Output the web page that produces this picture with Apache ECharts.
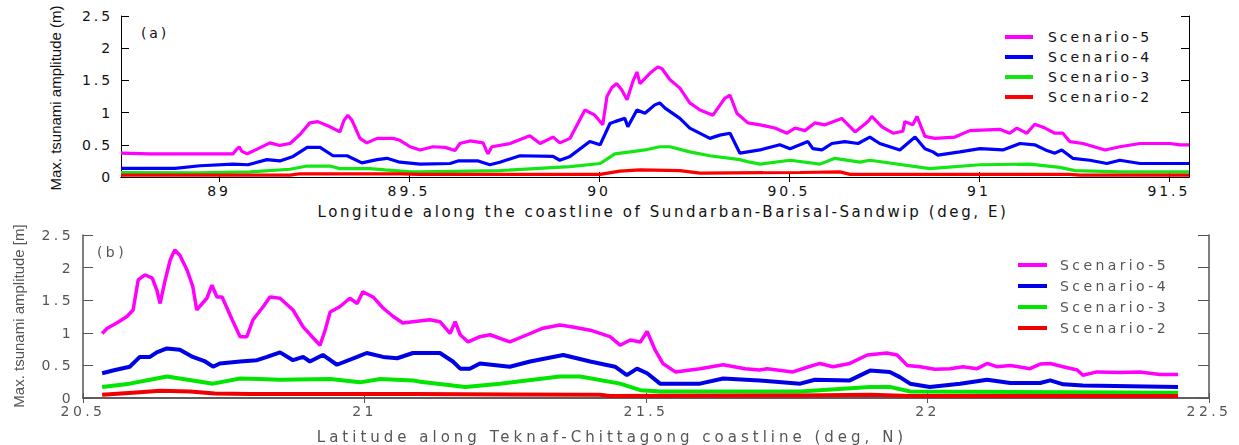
<!DOCTYPE html>
<html>
<head>
<meta charset="utf-8">
<script src="https://cdn.jsdelivr.net/npm/echarts@6/dist/echarts.min.js"></script>
<style>
  html, body { margin: 0; padding: 0; background: #fff; }
  #wrap { position: relative; width: 1239px; height: 445px; overflow: hidden; }
  .panel { position: absolute; left: 0; top: 0; width: 1239px; height: 445px; }
  /* wide tracking for the tick labels, legend and axis titles */
  #panelA text { letter-spacing: 2.9px; }
  #panelA text[style*="sans-serif"] { letter-spacing: 2.6px; }
  #panelB { filter: blur(0.6px); }
  #panelB text { letter-spacing: 3.4px; }
  #panelB text[style*="sans-serif"] { letter-spacing: 4px; }
  /* vertical axis titles keep normal tracking */
  #panelA text[style*="Liberation"], #panelB text[style*="Liberation"] { letter-spacing: 0; }
</style>
</head>
<body>
<div id="wrap">
  <div id="panelB" class="panel"></div>
  <div id="panelA" class="panel"></div>
</div>
<script>
// ---- Panel (a): Sundarban-Barisal-Sandwip coast, by longitude (deg E) ----
const scenarioNames = ['Scenario-5', 'Scenario-4', 'Scenario-3', 'Scenario-2'];
const lonTicks = [89, 89.5, 90, 90.5, 91, 91.5];

const lonS5 = [88.742, 88.818, 88.95, 89.037, 89.045, 89.053, 89.06, 89.074, 89.103, 89.134, 89.16, 89.187, 89.213, 89.239, 89.26, 89.292, 89.318, 89.329, 89.339, 89.35, 89.371, 89.389, 89.416, 89.458, 89.476, 89.503, 89.529, 89.563, 89.595, 89.621, 89.634, 89.66, 89.695, 89.703, 89.708, 89.718, 89.766, 89.818, 89.845, 89.879, 89.897, 89.924, 89.963, 89.989, 90.01, 90.021, 90.034, 90.047, 90.06, 90.074, 90.089, 90.1, 90.108, 90.134, 90.155, 90.166, 90.187, 90.213, 90.239, 90.266, 90.3, 90.331, 90.345, 90.363, 90.392, 90.424, 90.463, 90.495, 90.516, 90.542, 90.568, 90.595, 90.639, 90.674, 90.708, 90.718, 90.745, 90.774, 90.8, 90.805, 90.826, 90.837, 90.858, 90.884, 90.937, 90.976, 91.055, 91.081, 91.1, 91.126, 91.147, 91.174, 91.2, 91.221, 91.239, 91.274, 91.332, 91.371, 91.424, 91.503, 91.529, 91.553];
const ampS5 = [0.37, 0.36, 0.36, 0.36, 0.42, 0.47, 0.40, 0.36, 0.44, 0.53, 0.49, 0.52, 0.66, 0.84, 0.86, 0.78, 0.70, 0.88, 0.96, 0.88, 0.60, 0.53, 0.60, 0.60, 0.57, 0.47, 0.42, 0.47, 0.46, 0.41, 0.52, 0.56, 0.53, 0.42, 0.36, 0.47, 0.52, 0.64, 0.52, 0.62, 0.53, 0.60, 1.04, 0.96, 0.81, 1.25, 1.39, 1.45, 1.35, 1.20, 1.48, 1.63, 1.45, 1.61, 1.71, 1.68, 1.51, 1.38, 1.15, 1.04, 0.96, 1.22, 1.27, 0.99, 0.84, 0.81, 0.76, 0.68, 0.76, 0.72, 0.84, 0.81, 0.91, 0.70, 0.86, 0.94, 0.78, 0.68, 0.71, 0.86, 0.81, 0.94, 0.63, 0.60, 0.62, 0.72, 0.74, 0.68, 0.76, 0.68, 0.82, 0.76, 0.68, 0.68, 0.55, 0.52, 0.42, 0.47, 0.52, 0.52, 0.50, 0.50];

const lonS4 = [88.742, 88.884, 88.95, 89.037, 89.076, 89.126, 89.16, 89.195, 89.232, 89.266, 89.3, 89.337, 89.376, 89.416, 89.442, 89.476, 89.529, 89.608, 89.629, 89.682, 89.713, 89.739, 89.792, 89.879, 89.897, 89.924, 89.976, 90.003, 90.029, 90.042, 90.068, 90.076, 90.1, 90.121, 90.147, 90.16, 90.174, 90.213, 90.239, 90.292, 90.318, 90.345, 90.371, 90.424, 90.476, 90.503, 90.529, 90.55, 90.563, 90.587, 90.613, 90.647, 90.682, 90.713, 90.739, 90.792, 90.832, 90.858, 90.879, 90.892, 90.95, 91.003, 91.063, 91.108, 91.147, 91.179, 91.2, 91.218, 91.247, 91.292, 91.337, 91.371, 91.424, 91.553];
const ampS4 = [0.135, 0.135, 0.175, 0.20, 0.19, 0.27, 0.25, 0.32, 0.46, 0.46, 0.33, 0.33, 0.22, 0.27, 0.29, 0.23, 0.20, 0.21, 0.25, 0.25, 0.19, 0.23, 0.33, 0.32, 0.26, 0.32, 0.55, 0.50, 0.83, 0.86, 0.91, 0.78, 1.04, 0.99, 1.12, 1.15, 1.07, 0.91, 0.76, 0.60, 0.65, 0.68, 0.37, 0.42, 0.50, 0.44, 0.50, 0.55, 0.44, 0.42, 0.52, 0.55, 0.52, 0.62, 0.52, 0.42, 0.62, 0.44, 0.39, 0.34, 0.39, 0.44, 0.42, 0.52, 0.50, 0.41, 0.37, 0.42, 0.29, 0.26, 0.21, 0.26, 0.21, 0.21];

const lonS3 = [88.742, 88.95, 89.082, 89.187, 89.232, 89.292, 89.318, 89.397, 89.437, 89.503, 89.529, 89.739, 89.924, 90.003, 90.042, 90.082, 90.121, 90.16, 90.187, 90.239, 90.292, 90.371, 90.397, 90.424, 90.503, 90.582, 90.621, 90.687, 90.713, 90.871, 91.003, 91.134, 91.213, 91.253, 91.371, 91.553];
const ampS3 = [0.07, 0.065, 0.08, 0.12, 0.17, 0.17, 0.13, 0.13, 0.11, 0.08, 0.08, 0.10, 0.16, 0.21, 0.36, 0.39, 0.42, 0.47, 0.47, 0.39, 0.33, 0.27, 0.23, 0.20, 0.26, 0.20, 0.29, 0.23, 0.26, 0.13, 0.19, 0.20, 0.15, 0.10, 0.08, 0.08];

const lonS2 = [88.742, 89.187, 89.213, 89.476, 89.529, 90.003, 90.055, 90.108, 90.213, 90.266, 90.529, 90.634, 90.661, 91.239, 91.266, 91.553];
const ampS2 = [0.03, 0.03, 0.05, 0.05, 0.04, 0.04, 0.09, 0.11, 0.10, 0.06, 0.07, 0.08, 0.04, 0.04, 0.03, 0.03];

// ---- Panel (b): Teknaf-Chittagong coast, by latitude (deg N) ----
const latS5 = [20.534, 20.543, 20.56, 20.578, 20.589, 20.598, 20.61, 20.623, 20.631, 20.637, 20.646, 20.655, 20.663, 20.672, 20.685, 20.695, 20.702, 20.72, 20.729, 20.738, 20.747, 20.765, 20.779, 20.791, 20.802, 20.82, 20.832, 20.85, 20.873, 20.891, 20.909, 20.921, 20.93, 20.939, 20.956, 20.974, 20.987, 20.997, 21.015, 21.033, 21.051, 21.068, 21.086, 21.116, 21.134, 21.152, 21.161, 21.17, 21.184, 21.205, 21.223, 21.258, 21.289, 21.317, 21.347, 21.37, 21.401, 21.436, 21.454, 21.472, 21.49, 21.502, 21.516, 21.53, 21.552, 21.596, 21.637, 21.676, 21.702, 21.715, 21.761, 21.782, 21.809, 21.832, 21.862, 21.893, 21.928, 21.946, 21.964, 21.987, 22.013, 22.04, 22.063, 22.088, 22.106, 22.123, 22.147, 22.182, 22.2, 22.218, 22.241, 22.266, 22.276, 22.301, 22.342, 22.377, 22.413, 22.445];
const ampB5 = [0.99, 1.07, 1.15, 1.25, 1.35, 1.81, 1.89, 1.84, 1.66, 1.45, 1.81, 2.12, 2.27, 2.19, 1.96, 1.71, 1.35, 1.53, 1.73, 1.55, 1.55, 1.20, 0.94, 0.94, 1.20, 1.40, 1.55, 1.53, 1.35, 1.09, 0.92, 0.81, 1.04, 1.32, 1.40, 1.53, 1.45, 1.63, 1.55, 1.38, 1.25, 1.15, 1.17, 1.20, 1.17, 0.99, 1.17, 0.97, 0.86, 0.94, 0.97, 0.86, 0.97, 1.07, 1.12, 1.09, 1.04, 0.94, 0.81, 0.89, 0.86, 1.02, 0.74, 0.53, 0.40, 0.45, 0.51, 0.45, 0.43, 0.45, 0.40, 0.46, 0.53, 0.48, 0.53, 0.66, 0.69, 0.66, 0.50, 0.48, 0.44, 0.45, 0.48, 0.45, 0.53, 0.48, 0.50, 0.45, 0.52, 0.53, 0.48, 0.43, 0.35, 0.40, 0.39, 0.40, 0.36, 0.36];

const latS4 = [20.534, 20.557, 20.583, 20.601, 20.619, 20.631, 20.649, 20.672, 20.695, 20.717, 20.731, 20.743, 20.779, 20.809, 20.827, 20.85, 20.873, 20.891, 20.903, 20.926, 20.951, 20.987, 21.004, 21.033, 21.058, 21.086, 21.134, 21.157, 21.17, 21.187, 21.205, 21.258, 21.294, 21.353, 21.401, 21.445, 21.466, 21.484, 21.502, 21.525, 21.596, 21.637, 21.702, 21.774, 21.8, 21.862, 21.898, 21.933, 21.951, 21.969, 22.004, 22.058, 22.106, 22.147, 22.2, 22.218, 22.241, 22.276, 22.445];
const ampB4 = [0.38, 0.43, 0.48, 0.63, 0.63, 0.70, 0.76, 0.74, 0.63, 0.56, 0.48, 0.53, 0.56, 0.58, 0.63, 0.70, 0.58, 0.63, 0.56, 0.66, 0.51, 0.63, 0.69, 0.63, 0.61, 0.69, 0.69, 0.56, 0.45, 0.45, 0.53, 0.48, 0.56, 0.66, 0.56, 0.48, 0.35, 0.45, 0.38, 0.22, 0.22, 0.30, 0.27, 0.22, 0.28, 0.27, 0.42, 0.40, 0.32, 0.22, 0.17, 0.22, 0.28, 0.23, 0.23, 0.27, 0.21, 0.19, 0.17];

const latS3 = [20.534, 20.583, 20.619, 20.649, 20.672, 20.731, 20.779, 20.85, 20.939, 20.992, 21.028, 21.086, 21.099, 21.179, 21.241, 21.347, 21.383, 21.454, 21.49, 21.525, 21.774, 21.898, 21.933, 21.969, 22.445];
const ampB3 = [0.17, 0.22, 0.28, 0.33, 0.30, 0.22, 0.30, 0.28, 0.29, 0.24, 0.29, 0.27, 0.25, 0.17, 0.22, 0.33, 0.33, 0.22, 0.12, 0.10, 0.10, 0.17, 0.17, 0.10, 0.08];

const latS2 = [20.534, 20.601, 20.637, 20.69, 20.734, 20.797, 21.086, 21.418, 21.436, 21.774, 21.898, 21.969, 22.445];
const ampB2 = [0.05, 0.09, 0.11, 0.10, 0.07, 0.06, 0.06, 0.05, 0.03, 0.04, 0.05, 0.03, 0.03];

const pairs = (xs, ys) => xs.map((x, i) => [x, ys[i]]);

// ---------- chart (a) ----------
const colorsA = ['#ff00ff', '#0000ff', '#14e614', '#ff0000'];
const fontA = 'DejaVu Sans';
const titleFont = '"DejaVu Sans", sans-serif';
const vertFont = '"Liberation Sans"';
const inkA = '#111';

function lineSeries(name, data, color, width) {
  return {
    name, type: 'line', data, showSymbol: false, symbol: 'none',
    lineStyle: { color, width }, itemStyle: { color },
    emphasis: { disabled: true }, animation: false
  };
}

const chartA = echarts.init(document.getElementById('panelA'), null, { renderer: 'svg' });
chartA.setOption({
  animation: false,
  grid: { left: 121, top: 16, width: 1068, height: 161, containLabel: false },
  xAxis: [
    { type: 'value', min: 88.742, max: 91.553, position: 'bottom',
      axisLine: { lineStyle: { color: '#000', width: 1 } },
      axisTick: { inside: true, length: 5, customValues: lonTicks, lineStyle: { color: '#000' } },
      axisLabel: { customValues: lonTicks, margin: 7, color: inkA, fontSize: 14, fontFamily: fontA },
      splitLine: { show: false } },
    { type: 'value', min: 88.742, max: 91.553, position: 'top',
      axisLine: { lineStyle: { color: '#000', width: 1 } },
      axisTick: { inside: true, length: 5, customValues: lonTicks, lineStyle: { color: '#000' } },
      axisLabel: { show: false }, splitLine: { show: false } }
  ],
  yAxis: [
    { type: 'value', min: 0, max: 2.5, interval: 0.5, position: 'left',
      axisLine: { show: true, lineStyle: { color: '#000', width: 1 } },
      axisTick: { show: true, inside: true, length: 8, lineStyle: { color: '#000' } },
      axisLabel: { margin: 8, color: inkA, fontSize: 14, fontFamily: fontA },
      splitLine: { show: false } },
    { type: 'value', min: 0, max: 2.5, interval: 0.5, position: 'right',
      axisLine: { show: true, lineStyle: { color: '#000', width: 1 } },
      axisTick: { show: true, inside: true, length: 8, lineStyle: { color: '#000' } },
      axisLabel: { show: false }, splitLine: { show: false } }
  ],
  legend: {
    data: scenarioNames, orient: 'vertical', left: 1005, top: 29, padding: 0,
    itemWidth: 28, itemHeight: 4, itemGap: 4, icon: 'rect',
    textStyle: { color: inkA, fontSize: 14, fontFamily: fontA, lineHeight: 16, padding: [0, 0, 0, 10] },
    selectedMode: false
  },
  graphic: [
    { type: 'text', x: 155, y: 33, silent: true,
      style: { text: '(a)', fill: inkA, font: '14px "DejaVu Sans"', align: 'center', verticalAlign: 'middle' } },
    { type: 'text', x: 663, y: 212, silent: true,
      style: { text: 'Longitude along the coastline of Sundarban-Barisal-Sandwip (deg, E)', fill: inkA,
               font: '15px ' + titleFont, align: 'center', verticalAlign: 'middle' } },
    { type: 'text', x: 55, y: 98, rotation: Math.PI / 2, silent: true,
      style: { text: 'Max. tsunami amplitude (m)', fill: inkA,
               font: '15px ' + vertFont, align: 'center', verticalAlign: 'middle' } }
  ],
  series: [
    lineSeries('Scenario-5', pairs(lonS5, ampS5), colorsA[0], 3.2),
    lineSeries('Scenario-4', pairs(lonS4, ampS4), colorsA[1], 3.2),
    lineSeries('Scenario-3', pairs(lonS3, ampS3), colorsA[2], 3.2),
    lineSeries('Scenario-2', pairs(lonS2, ampS2), colorsA[3], 3.2)
  ]
});

// ---------- chart (b) ----------
const colorsB = ['#ff00ff', '#0000e6', '#00e600', '#f00000'];
const inkB = '#555';
const axisB = '#555';

const chartB = echarts.init(document.getElementById('panelB'), null, { renderer: 'svg' });
chartB.setOption({
  animation: false,
  grid: { left: 83, top: 235, width: 1126, height: 163, containLabel: false },
  xAxis: [
    { type: 'value', min: 20.5, max: 22.5, interval: 0.5, position: 'bottom',
      axisLine: { lineStyle: { color: axisB, width: 1.5 } },
      axisTick: { inside: true, length: 5, lineStyle: { color: axisB } },
      axisLabel: { margin: 6, color: inkB, fontSize: 14, fontFamily: fontA, showMinLabel: true, showMaxLabel: true },
      splitLine: { show: false } },
    { type: 'value', min: 20.5, max: 22.5, interval: 0.5, position: 'top',
      axisLine: { lineStyle: { color: axisB, width: 1.5 } },
      axisTick: { inside: true, length: 5, lineStyle: { color: axisB } },
      axisLabel: { show: false }, splitLine: { show: false } }
  ],
  yAxis: [
    { type: 'value', min: 0, max: 2.5, interval: 0.5, position: 'left',
      axisLine: { show: true, lineStyle: { color: axisB, width: 1.5 } },
      axisTick: { show: true, inside: true, length: 10, lineStyle: { color: axisB } },
      axisLabel: { margin: 9, color: inkB, fontSize: 14, fontFamily: fontA },
      splitLine: { show: false } },
    { type: 'value', min: 0, max: 2.5, interval: 0.5, position: 'right',
      axisLine: { show: true, lineStyle: { color: axisB, width: 1.5 } },
      axisTick: { show: true, inside: true, length: 11, lineStyle: { color: axisB } },
      axisLabel: { show: false }, splitLine: { show: false } }
  ],
  legend: {
    data: scenarioNames, orient: 'vertical', left: 1018, top: 257, padding: 0,
    itemWidth: 29, itemHeight: 4, itemGap: 5, icon: 'rect',
    textStyle: { color: inkB, fontSize: 14, fontFamily: fontA, lineHeight: 16, padding: [0, 0, 0, 8] },
    selectedMode: false
  },
  graphic: [
    { type: 'text', x: 112, y: 252, silent: true,
      style: { text: '(b)', fill: inkB, font: '14px "DejaVu Sans"', align: 'center', verticalAlign: 'middle' } },
    { type: 'text', x: 612, y: 437, silent: true,
      style: { text: 'Latitude along Teknaf-Chittagong coastline (deg, N)', fill: inkB,
               font: '15px ' + titleFont, align: 'center', verticalAlign: 'middle' } },
    { type: 'text', x: 18, y: 316, rotation: Math.PI / 2, silent: true,
      style: { text: 'Max. tsunami amplitude [m]', fill: inkB,
               font: '15px ' + vertFont, align: 'center', verticalAlign: 'middle' } }
  ],
  series: [
    lineSeries('Scenario-5', pairs(latS5, ampB5), colorsB[0], 3.5),
    lineSeries('Scenario-4', pairs(latS4, ampB4), colorsB[1], 4),
    lineSeries('Scenario-3', pairs(latS3, ampB3), colorsB[2], 4),
    lineSeries('Scenario-2', pairs(latS2, ampB2), colorsB[3], 4)
  ]
});
</script>
</body>
</html>
